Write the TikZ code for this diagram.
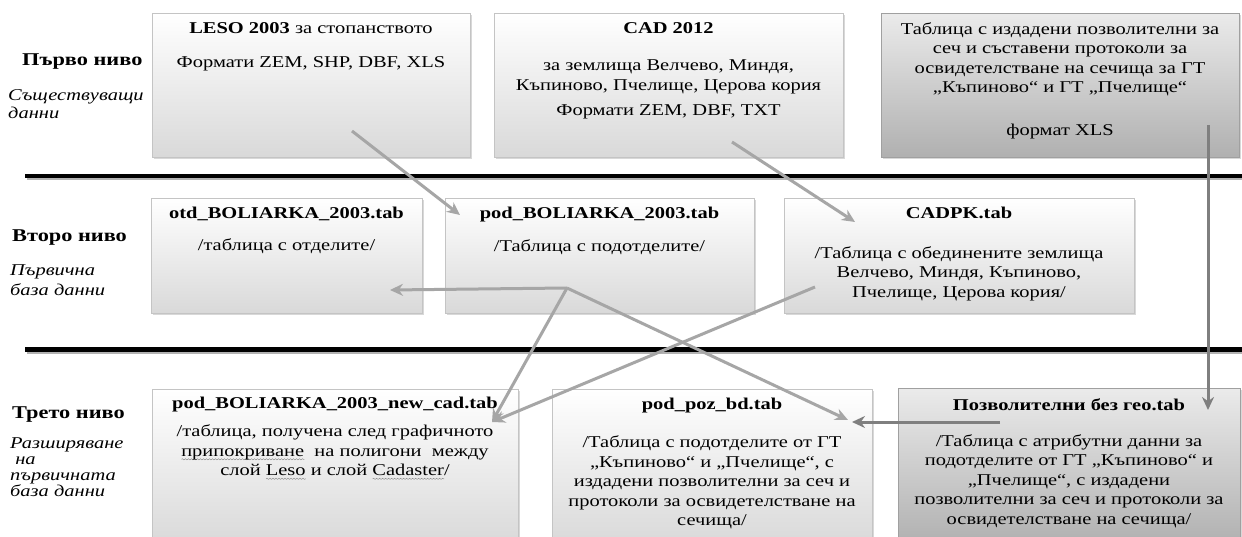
\documentclass[tikz,border=0pt]{standalone}
\usepackage{fontspec}
\setmainfont{Liberation Serif}[FakeStretch=1.24]
\usetikzlibrary{arrows.meta,calc,shadows,decorations.pathmorphing}
\definecolor{arrL}{HTML}{A6A6A6}
\definecolor{arrD}{HTML}{7F7F7F}
\definecolor{edgeL}{HTML}{C4C4C4}
\definecolor{edgeD}{HTML}{A0A0A0}
\newlength\sqwl
\newcommand\sqw[1]{\settowidth\sqwl{#1}\rlap{\raisebox{-4pt}{\tikz\draw[black!45,line width=0.45pt,decorate,decoration={snake,amplitude=0.6pt,segment length=3pt}] (0pt,0pt) -- (\sqwl,0pt);}}#1}
\tikzset{
  boxbase/.style={anchor=north west, inner sep=0pt, line width=0.8pt,
    drop shadow={shadow xshift=1.6pt, shadow yshift=-1.6pt, fill=black!30}},
  lbox/.style={boxbase, draw=edgeL, top color=white, bottom color=black!15},
  dbox/.style={boxbase, draw=edgeD, top color=black!8, bottom color=black!31},
  txt/.style={anchor=north, align=center, inner sep=0pt, font=\fontsize{16.5}{19.5}\selectfont},
  lvl/.style={anchor=west, inner sep=0pt, font=\fontsize{18}{21}\selectfont\bfseries},
  sub/.style={anchor=north west, align=left, inner sep=0pt, font=\fontsize{16.5}{18}\selectfont\itshape},
  la/.style={draw=arrL, line width=3pt, -{Stealth[length=13pt,width=12pt]}},
  da/.style={draw=arrD, line width=3pt, -{Stealth[length=13pt,width=12pt]}},
  sep/.style={line width=4.8pt, black},
  sepsh/.style={line width=2pt, black!30},
}
\begin{document}
\begin{tikzpicture}[x=1pt,y=-1pt]
\useasboundingbox[fill=white] (0,0) rectangle (1242,537);

% separators
\draw[sepsh] (27,179.5) -- (1242,179.5);
\draw[sep] (25,176) -- (1242,176);
\draw[sepsh] (27,352.5) -- (1242,352.5);
\draw[sep] (25,349.5) -- (1242,349.5);

% level labels
\node[lvl] (lv1) at (22,62) {Първо ниво};
\node[sub] (sb1) at (8,89) {Съществуващи\\данни};
\node[lvl] (lv2) at (12,238) {Второ ниво};
\node[sub] (sb2) at (10,264) {Първична\\[2pt]база данни};
\node[lvl] (lv3) at (12,415) {Трето ниво};
\node[sub] (sb3) at (10,437) {Разширяване\\[-2pt]\ на\\[-2pt]първичната\\[-2pt]база данни};

% level 1 boxes
\node[lbox, minimum width=318pt, minimum height=144pt] (leso) at (152,13) {};
\node[lbox, minimum width=349pt, minimum height=144pt] (cad) at (494,13) {};
\node[dbox, minimum width=358pt, minimum height=144pt] (tbl) at (881,13) {};
\node[txt] (lesot) at (311,22) {\textbf{LESO 2003} за стопанството\\[14.5pt]Формати ZEM, SHP, DBF, XLS};
\node[txt] (cadt) at (668.5,22) {\textbf{CAD 2012}\\[18pt]за землища Велчево, Миндя,\\Къпиново, Пчелище, Церова кория\\[6pt]Формати ZEM, DBF, TXT};
\node[txt] (tblt) at (1060,22) {Таблица с издадени позволителни за\\сеч и съставени протоколи за\\освидетелстване на сечища за ГТ\\„Къпиново“ и ГТ „Пчелище“\\[23pt]формат XLS};

% level 2 boxes
\node[lbox, minimum width=271pt, minimum height=115pt] (otd) at (151,198) {};
\node[lbox, minimum width=309pt, minimum height=115pt] (pod) at (445,198) {};
\node[lbox, minimum width=350pt, minimum height=115pt] (cadpk) at (784,198) {};
\node[txt] (otdt) at (286.5,207) {\textbf{otd\_BOLIARKA\_2003.tab}\\[12.5pt]/таблица с отделите/};
\node[txt] (podt) at (599.5,207) {\textbf{pod\_BOLIARKA\_2003.tab}\\[13pt]/Таблица с подотделите/};
\node[txt] (cadpkt) at (959,207) {\textbf{CADPK.tab}\\[20pt]/Таблица с обединените землища\\Велчево, Миндя, Къпиново,\\Пчелище, Церова кория/};

% level 3 boxes
\node[lbox, minimum width=366pt, minimum height=156pt] (newc) at (152,389) {};
\node[lbox, minimum width=320pt, minimum height=156pt] (poz) at (552,389) {};
\node[dbox, minimum width=342pt, minimum height=157pt] (perm) at (898,388) {};
\node[txt] (newct) at (335,397) {\textbf{pod\_BOLIARKA\_2003\_new\_cad.tab}\\[8.5pt]/таблица, получена след графичното\\\sqw{припокриване}\ \ на полигони\ \ между\\слой \sqw{Leso} и слой \sqw{Cadaster}/};
\node[txt] (pozt) at (712,398) {\textbf{pod\_poz\_bd.tab}\\[18.5pt]/Таблица с подотделите от ГТ\\„Къпиново“ и „Пчелище“, с\\издадени позволителни за сеч и\\протоколи за освидетелстване на\\сечища/};
\node[txt] (permt) at (1069,398) {\textbf{Позволителни без гео.tab}\\[16.5pt]/Таблица с атрибутни данни за\\подотделите от ГТ „Къпиново“ и\\„Пчелище“, с издадени\\позволителни за сеч и протоколи за\\освидетелстване на сечища/};

% connector end points
\coordinate (a1s) at (352,131);
\coordinate (a1e) at (460,215);
\coordinate (a2s) at (732,142);
\coordinate (a2e) at (855,222);
\coordinate (j) at (567,288);
\coordinate (otde) at (390,290);
\coordinate (newe) at (492,422);
\coordinate (poze) at (848,420);
\coordinate (a6s) at (815,287);
\coordinate (a7s) at (1000,422);
\coordinate (a7e) at (852,422);
\coordinate (a8s) at (1208,125);
\coordinate (a8e) at (1208,410);

% connectors
\draw[la] (a1s) -- (a1e);
\draw[la] (a2s) -- (a2e);
\draw[la] (j) -- (otde);
\draw[la] (j) -- (newe);
\draw[la] (j) -- (poze);
\draw[la] (a6s) -- (newe);
\draw[da] (a7s) -- (a7e);
\draw[da] (a8s) -- (a8e);
\end{tikzpicture}
\end{document}
